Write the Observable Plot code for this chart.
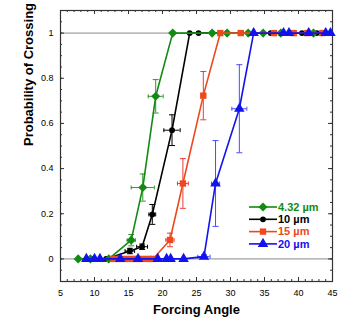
<!DOCTYPE html>
<html><head><meta charset="utf-8">
<script src="https://cdn.jsdelivr.net/npm/d3@7"></script>
<script src="https://cdn.jsdelivr.net/npm/@observablehq/plot@0.6"></script>
<style>
html,body{margin:0;padding:0;background:#fff;}
#chart{width:359px;height:325px;}
</style></head>
<body><div id="chart"></div>
<script>
// ---- data ----
const seriesNames = ["4.32 µm", "10 µm", "15 µm", "20 µm"];
const seriesColors = ["#138a13", "#000000", "#ec4a1c", "#1212ee"];
const errColors = ["#2a9a2a", "#000000", "#e83a3a", "#4a4aff"];
const seriesSymbols = ["diamond2", "circle", "square", "triangle"];
const seriesR = [4.1, 2.9, 3.6, 3.9];

const angle432 = [7.6, 9.4, 12.1, 15.4, 17.1, 19.0, 21.5, 27.3, 29.5, 32.6, 34.8, 37.4, 42.2];
const prob432  = [0, 0, 0, 0.083, 0.316, 0.72, 1, 1, 1, 1, 1, 1, 1];
const angle10 = [9.6, 11.7, 15.2, 17.0, 18.5, 21.4, 24.0, 25.3, 31.6, 35.9, 40.5, 42.7];
const prob10  = [0, 0, 0.035, 0.054, 0.197, 0.57, 1, 1, 1, 1, 1, 1];
const angle15 = [12.8, 13.6, 14.5, 15.4, 16.2, 17.0, 17.9, 18.6, 21.1, 23.0, 26.0, 28.5, 31.5, 36.4, 39.3, 41.3, 43.5];
const prob15  = [0, 0, 0, 0, 0, 0, 0, 0, 0.084, 0.334, 0.723, 1, 1, 1, 1, 1, 1];
const angle20 = [8.8, 10.0, 10.8, 13.8, 16.4, 19.3, 20.6, 21.2, 23.1, 26.1, 27.8, 31.3, 33.4, 37.8, 38.6, 41.5, 44.0, 44.7];
const prob20  = [0, 0, 0, 0, 0, 0, 0, 0, 0, 0.01, 0.334, 0.665, 1, 1, 1, 1, 1, 1];

// error bars: [angle, prob, angleErr, probErr]
const err432 = [[15.4, 0.083, 0.6, 0.025], [17.1, 0.316, 1.7, 0.06], [19.0, 0.72, 1.1, 0.074]];
const err10  = [[15.2, 0.035, 0.7, 0.012], [17.0, 0.054, 0.8, 0.012], [18.5, 0.197, 0.5, 0.044], [21.4, 0.57, 1.2, 0.068]];
const err15  = [[21.1, 0.084, 0.6, 0.03], [23.0, 0.334, 0.8, 0.11], [26.0, 0.723, 0.3, 0.107]];
const err20  = [[26.1, 0.01, 0.9, 0.008], [27.8, 0.334, 0.6, 0.19], [31.3, 0.665, 1.1, 0.195]];

const xMajor = [5, 10, 15, 20, 25, 30, 35, 40, 45];
const yMajor = [0, 0.2, 0.4, 0.6, 0.8, 1];
const xMinor = d3.range(5, 45.01, 1);
const yMinor = d3.range(-0.1, 1.1001, 0.05).map(v => +v.toFixed(2));
const gridVals = [0, 1];

// ---- build tables ----
const angles = [angle432, angle10, angle15, angle20];
const probs = [prob432, prob10, prob15, prob20];
const errs = [err432, err10, err15, err20];
const pts = [], ebars = [];
seriesNames.forEach((s, i) => {
  angles[i].forEach((a, j) => pts.push({s, i, x: a, y: probs[i][j]}));
  errs[i].forEach(e => ebars.push({s, i, x: e[0], y: e[1], ex: e[2], ey: e[3]}));
});

const capH = {draw(ctx, size) { const r = Math.sqrt(size / Math.PI); ctx.moveTo(-r, 0); ctx.lineTo(r, 0); }};
const capV = {draw(ctx, size) { const r = Math.sqrt(size / Math.PI); ctx.moveTo(0, -r); ctx.lineTo(0, r); }};

const frameH = 325 - 10 - 44;
const frameW = 359 - 60 - 27;

const marks = [
  Plot.ruleY(gridVals, {y: d => d, stroke: "#8a8a8a", strokeWidth: 1}),
  // ticks inward
  Plot.ruleX(xMinor, {x: d => d, insetTop: frameH - 2, stroke: "#333"}),
  Plot.ruleX(xMinor, {x: d => d, insetBottom: frameH - 2, stroke: "#333"}),
  Plot.ruleX(xMajor, {x: d => d, insetTop: frameH - 4, stroke: "#333"}),
  Plot.ruleX(xMajor, {x: d => d, insetBottom: frameH - 4, stroke: "#333"}),
  Plot.ruleY(yMinor, {y: d => d, insetRight: frameW - 2, stroke: "#333"}),
  Plot.ruleY(yMinor, {y: d => d, insetLeft: frameW - 2, stroke: "#333"}),
  Plot.ruleY(yMajor, {y: d => d, insetRight: frameW - 4, stroke: "#333"}),
  Plot.ruleY(yMajor, {y: d => d, insetLeft: frameW - 4, stroke: "#333"}),
  Plot.axisX(xMajor, {tickSize: 0, tickPadding: 8, fontSize: 9, label: null, tickFormat: d => String(d)}),
  Plot.axisY(yMajor, {tickSize: 0, tickPadding: 7, fontSize: 9, label: null, tickFormat: d => String(d)}),
  Plot.frame({stroke: "#333", strokeWidth: 1.2}),
  Plot.text(["Forcing Angle"], {frameAnchor: "bottom", dy: 32, text: d => d, fontWeight: "bold", fontSize: 13}),
  Plot.text(["Probability of Crossing"], {frameAnchor: "left", dx: -32, rotate: -90, text: d => d, fontWeight: "bold", fontSize: 13}),
];

[1, 0, 2, 3].forEach(i => {
  const P = pts.filter(d => d.i === i);
  const E = ebars.filter(d => d.i === i);
  const c = seriesColors[i], ec = errColors[i];
  marks.push(
    Plot.ruleX(E, {x: "x", y1: d => d.y - d.ey, y2: d => d.y + d.ey, stroke: ec, strokeWidth: 1}),
    Plot.ruleY(E, {y: "y", x1: d => d.x - d.ex, x2: d => d.x + d.ex, stroke: ec, strokeWidth: 1}),
    Plot.dot(E, {x: "x", y: d => d.y - d.ey, symbol: capH, r: 3, stroke: ec, fill: "none", strokeWidth: 1}),
    Plot.dot(E, {x: "x", y: d => d.y + d.ey, symbol: capH, r: 3, stroke: ec, fill: "none", strokeWidth: 1}),
    Plot.dot(E, {x: d => d.x - d.ex, y: "y", symbol: capV, r: 2, stroke: ec, fill: "none", strokeWidth: 1}),
    Plot.dot(E, {x: d => d.x + d.ex, y: "y", symbol: capV, r: 2, stroke: ec, fill: "none", strokeWidth: 1}),
    Plot.line(P, {x: "x", y: "y", stroke: c, strokeWidth: 1.6}),
    Plot.dot(P, {x: "x", y: "y", symbol: seriesSymbols[i], r: seriesR[i], fill: c, stroke: "none"})
  );
});

const chart = Plot.plot({
  width: 359, height: 325,
  marginLeft: 60, marginRight: 27, marginTop: 10, marginBottom: 44,
  x: {type: "linear", domain: [5, 45]},
  y: {type: "linear", domain: [-0.1, 1.1]},
  style: {fontFamily: "'Liberation Sans', Arial, sans-serif", fontSize: "9px", color: "#000", background: "#fff"},
  marks
});
document.getElementById("chart").appendChild(chart);

// legend inside the plot area
const svg = d3.select(chart);
const lg = svg.append("g").attr("transform", "translate(249,207)");
const symMap = {diamond2: d3.symbolDiamond2, circle: d3.symbolCircle, square: d3.symbolSquare, triangle: d3.symbolTriangle};
seriesNames.forEach((s, i) => {
  const g = lg.append("g").attr("transform", `translate(0,${i * 12.3})`);
  g.append("line").attr("x1", 0).attr("x2", 28).attr("y1", 0).attr("y2", 0)
    .attr("stroke", seriesColors[i]).attr("stroke-width", 1.6);
  const size = Math.PI * seriesR[i] * seriesR[i];
  g.append("path").attr("transform", "translate(14,0)")
    .attr("d", d3.symbol(symMap[seriesSymbols[i]], size)()).attr("fill", seriesColors[i]);
  g.append("text").attr("x", 29).attr("y", 0).attr("dy", "0.35em")
    .attr("text-anchor", "start")
    .attr("font-size", 11).attr("font-weight", "bold").attr("fill", seriesColors[i])
    .attr("font-family", "'Liberation Sans', Arial, sans-serif").text(s);
});
</script>
</body></html>
